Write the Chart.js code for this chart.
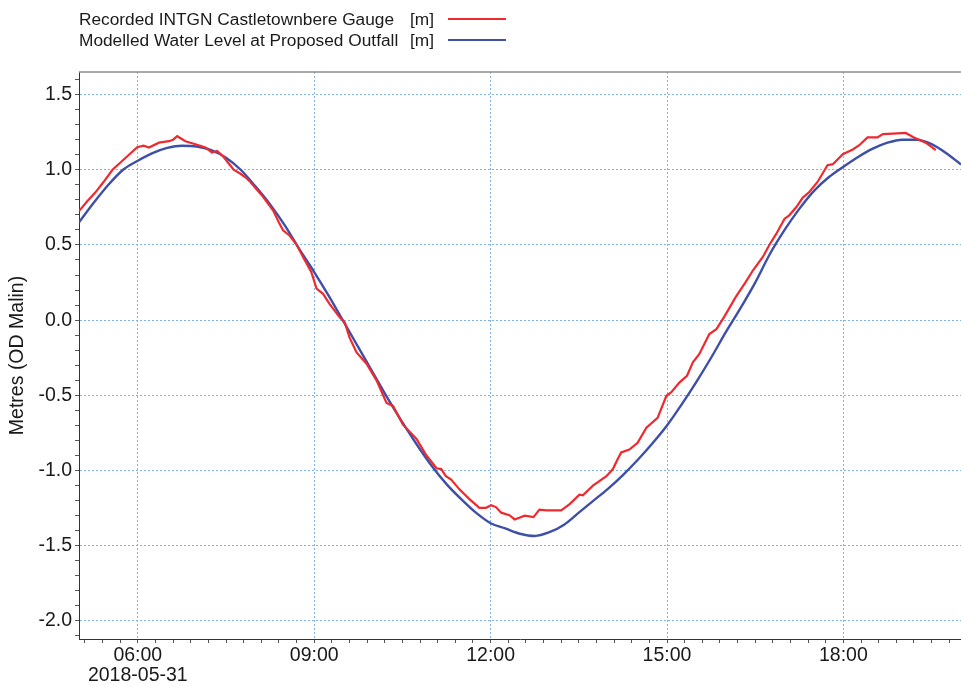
<!DOCTYPE html>
<html><head><meta charset="utf-8">
<script src="https://cdn.jsdelivr.net/npm/chart.js@4.4.1/dist/chart.umd.min.js"></script>
<style>
html,body{margin:0;padding:0;background:#fff;}
#wrap{position:relative;width:961px;height:686px;overflow:hidden;background:#fff;}
canvas{position:absolute;left:0;top:0;}
.lg{position:absolute;font-family:"Liberation Sans",Arial,sans-serif;font-size:17.3px;color:#1a1a1a;white-space:nowrap;line-height:20px;}
.sw{position:absolute;height:2px;}
</style></head><body>
<div id="wrap"><canvas id="c" width="961" height="686"></canvas><div id="legend"></div></div>
<script>
// ---- data ----
const seriesNames = ['Recorded INTGN Castletownbere Gauge', 'Modelled Water Level at Proposed Outfall'];
const seriesUnits = ['[m]', '[m]'];
const seriesColors = ['#ee2a2e', '#3d4fa6'];
const yAxisTitle = 'Metres (OD Malin)';

// recorded gauge (hours of 2018-05-31, metres)
const recordedHours = [5.00,5.14,5.28,5.42,5.57,5.71,5.85,5.99,6.10,6.19,6.36,6.53,6.60,6.67,6.81,6.98,7.15,7.26,7.35,7.45,7.55,7.63,7.74,7.83,7.91,8.02,8.13,8.30,8.40,8.47,8.58,8.70,8.81,8.95,9.04,9.15,9.26,9.43,9.52,9.60,9.72,9.89,10.06,10.23,10.34,10.51,10.62,10.74,10.91,11.08,11.16,11.24,11.33,11.47,11.64,11.81,11.92,12.01,12.09,12.18,12.32,12.41,12.58,12.73,12.83,12.95,13.20,13.34,13.51,13.57,13.74,13.97,14.08,14.16,14.22,14.36,14.50,14.65,14.84,14.99,15.07,15.21,15.34,15.44,15.55,15.72,15.84,15.97,16.17,16.34,16.46,16.63,16.74,16.86,17.00,17.08,17.20,17.31,17.42,17.56,17.73,17.82,17.99,18.16,18.27,18.41,18.58,18.67,18.84,19.06,19.20,19.40,19.57];
const recordedLevels = [0.725,0.79,0.85,0.92,1.00,1.05,1.10,1.15,1.16,1.148,1.18,1.19,1.20,1.223,1.19,1.17,1.148,1.115,1.125,1.09,1.04,1.00,0.975,0.95,0.92,0.87,0.82,0.73,0.65,0.597,0.563,0.503,0.42,0.32,0.21,0.175,0.108,0.02,-0.015,-0.115,-0.215,-0.29,-0.40,-0.55,-0.57,-0.695,-0.74,-0.79,-0.90,-0.985,-0.99,-1.037,-1.06,-1.125,-1.19,-1.248,-1.248,-1.23,-1.243,-1.28,-1.297,-1.325,-1.30,-1.31,-1.26,-1.265,-1.265,-1.225,-1.16,-1.165,-1.10,-1.037,-0.99,-0.925,-0.88,-0.86,-0.815,-0.715,-0.65,-0.503,-0.48,-0.415,-0.37,-0.28,-0.225,-0.092,-0.06,0.02,0.155,0.255,0.33,0.42,0.50,0.575,0.675,0.697,0.752,0.815,0.852,0.919,1.03,1.037,1.103,1.135,1.163,1.215,1.215,1.237,1.24,1.245,1.215,1.18,1.13];

// modelled level
const modelledHours = [5.00,5.25,5.50,5.75,6.00,6.25,6.50,6.75,7.00,7.25,7.50,7.75,8.00,8.25,8.50,8.75,9.00,9.25,9.50,9.75,10.00,10.25,10.50,10.75,11.00,11.25,11.50,11.75,12.00,12.25,12.50,12.75,13.00,13.25,13.50,13.75,14.00,14.25,14.50,14.75,15.00,15.25,15.50,15.75,16.00,16.25,16.50,16.75,17.00,17.25,17.50,17.75,18.00,18.25,18.50,18.75,19.00,19.25,19.50,19.75,20.00];
const modelledLevels = [0.65,0.78,0.90,1.00,1.06,1.11,1.145,1.16,1.155,1.13,1.08,1.00,0.89,0.77,0.63,0.47,0.32,0.16,-0.01,-0.18,-0.35,-0.52,-0.68,-0.83,-0.97,-1.09,-1.19,-1.28,-1.35,-1.385,-1.42,-1.435,-1.41,-1.36,-1.28,-1.20,-1.12,-1.03,-0.93,-0.82,-0.70,-0.56,-0.41,-0.25,-0.08,0.08,0.25,0.44,0.60,0.74,0.86,0.95,1.02,1.085,1.14,1.18,1.20,1.20,1.17,1.11,1.035];

// ticks
const xTickHours = [6, 9, 12, 15, 18];
const xTickLabels = [['06:00', '2018-05-31'], '09:00', '12:00', '15:00', '18:00'];
const yTickValues = [-2.0, -1.5, -1.0, -0.5, 0.0, 0.5, 1.0, 1.5];
const yTickLabels = ['-2.0', '-1.5', '-1.0', '-0.5', '0.0', '0.5', '1.0', '1.5'];

// ---- legend (HTML text) ----
const legend = document.getElementById('legend');
seriesNames.forEach((name, i) => {
  const cy = 19 + i * 20.5;
  const t = document.createElement('div'); t.className = 'lg'; t.textContent = name;
  t.style.left = '79px'; t.style.top = (cy - 10) + 'px'; legend.appendChild(t);
  const u = document.createElement('div'); u.className = 'lg'; u.textContent = seriesUnits[i];
  u.style.left = '410px'; u.style.top = (cy - 10) + 'px'; legend.appendChild(u);
  const s = document.createElement('div'); s.className = 'sw';
  s.style.left = '448px'; s.style.width = '58px'; s.style.top = (cy - 1) + 'px';
  s.style.background = seriesColors[i]; legend.appendChild(s);
});

// ---- chart ----
const FONT = '"Liberation Sans", Arial, sans-serif';
const near = (a, b) => Math.abs(a - b) < 1e-6;
const isIn = (v, arr) => arr.findIndex(a => near(a, v));
const GRID = '#7db3e6';

function minorTicks(lo, hi, step) {
  const out = [];
  const n0 = Math.ceil(lo / step - 1e-9), n1 = Math.floor(hi / step + 1e-9);
  for (let n = n0; n <= n1; n++) out.push({ value: Math.round(n * step * 1000) / 1000 });
  return out;
}

const topBorder = {
  id: 'topBorder',
  afterDraw(chart) {
    const { ctx, chartArea } = chart;
    ctx.save();
    ctx.strokeStyle = '#8c8c8c';
    ctx.lineWidth = 1.5;
    ctx.beginPath();
    ctx.moveTo(chartArea.left, chartArea.top);
    ctx.lineTo(chartArea.right, chartArea.top);
    ctx.stroke();
    ctx.restore();
  }
};

new Chart(document.getElementById('c'), {
  type: 'line',
  data: {
    datasets: [
      {
        label: seriesNames[0],
        data: recordedHours.map((h, i) => ({ x: h, y: recordedLevels[i] })),
        borderColor: seriesColors[0], borderWidth: 2.2, pointRadius: 0, tension: 0
      },
      {
        label: seriesNames[1],
        data: modelledHours.map((h, i) => ({ x: h, y: modelledLevels[i] })),
        borderColor: seriesColors[1], borderWidth: 2.4, pointRadius: 0,
        cubicInterpolationMode: 'monotone'
      }
    ]
  },
  options: {
    responsive: false, animation: false, devicePixelRatio: 1,
    layout: { padding: { top: 72, right: 0, left: 0, bottom: 0 } },
    plugins: { legend: { display: false }, tooltip: { enabled: false } },
    scales: {
      x: {
        type: 'linear', min: 5, max: 20,
        afterFit(s) { s.height = 47; },
        afterBuildTicks(s) { s.ticks = minorTicks(5, 20, 0.3); },
        grid: {
          color: c => (c.tick && isIn(c.tick.value, xTickHours) >= 0) ? GRID : 'rgba(0,0,0,0)',
          lineWidth: 1, tickColor: '#555', tickLength: 4, drawTicks: true
        },
        border: { display: true, color: '#333', width: 1, dash: [2, 2] },
        ticks: {
          autoSkip: false, maxRotation: 0, padding: 3, color: '#1a1a1a',
          font: { family: FONT, size: 19.5, lineHeight: 1.0 },
          callback: v => { const i = isIn(v, xTickHours); return i >= 0 ? xTickLabels[i] : ''; }
        }
      },
      y: {
        type: 'linear', min: -2.12, max: 1.65,
        afterFit(s) { s.width = 79; },
        afterBuildTicks(s) { s.ticks = minorTicks(-2.12, 1.65, 0.1); },
        grid: {
          color: c => (c.tick && isIn(c.tick.value, yTickValues) >= 0) ? GRID : 'rgba(0,0,0,0)',
          lineWidth: 1, tickColor: '#555', tickLength: 4, drawTicks: true
        },
        border: { display: true, color: '#333', width: 1, dash: [2, 2] },
        title: {
          display: true, text: yAxisTitle, color: '#1a1a1a',
          font: { family: FONT, size: 19.5, lineHeight: 1.2 },
          padding: { top: 6, bottom: 0 }
        },
        ticks: {
          autoSkip: false, padding: 3, color: '#1a1a1a',
          font: { family: FONT, size: 19.5 },
          callback: v => { const i = isIn(v, yTickValues); return i >= 0 ? yTickLabels[i] : ''; }
        }
      }
    }
  },
  plugins: [topBorder]
});
</script>
</body></html>
